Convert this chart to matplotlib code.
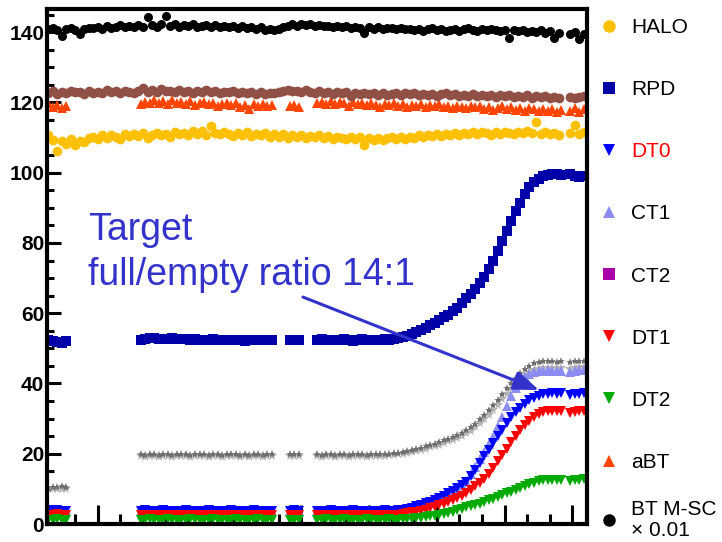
import numpy as np
import matplotlib
matplotlib.use("Agg")
import matplotlib.pyplot as plt
from matplotlib.ticker import MultipleLocator

plt.rcParams['font.family'] = ['Liberation Sans', 'DejaVu Sans']

# ---------------- data ----------------
# time samples (arbitrary units) of the segmented channels
SEG_LOW = [(0.8, 1.6, 5), (4.9, 10.7, 30), (11.5, 11.9, 3), (12.7, 23.5, 55), (23.9, 24.5, 4)]
# time samples of the continuous channels
SEG_TOP = [(0.8, 23.4, 114), (23.9, 24.5, 4)]

RPD = [52.3, 52.0, 51.8, 51.6, 52.0,
       52.4, 52.8, 53.0, 52.9, 52.7, 52.6, 52.8, 52.9, 52.7, 52.6, 52.6, 52.5, 52.6, 52.5, 52.4,
       52.5, 52.6, 52.5, 52.4, 52.3, 52.5, 52.4, 52.3, 52.2, 52.4, 52.3, 52.5, 52.4, 52.5, 52.4,
       52.3, 52.4, 52.3,
       52.5, 52.6, 52.4, 52.5, 52.3, 52.5, 52.6, 52.4, 52.2, 52.5, 52.6, 52.4, 52.5, 52.3, 52.5,
       52.6, 52.5, 52.7, 52.9, 53.2, 53.6, 54.1, 54.6, 55.2, 55.9, 56.6, 57.3, 58.0, 58.8, 59.6,
       60.5, 61.6, 63.0, 64.2, 65.6, 66.8, 68.5, 70.2, 72.5, 75.0, 77.8, 80.5, 83.3, 86.2, 89.0,
       91.3, 93.8, 95.8, 97.3, 98.3, 99.0, 99.4, 99.6, 99.5, 99.4,
       99.6, 99.2, 98.9, 99.1]

DT0 = [3.9, 3.8, 3.9, 3.7, 3.8,
       3.8, 3.9, 3.8, 3.7, 3.8, 3.9, 3.8, 3.8, 3.7, 3.8, 3.9, 3.8, 3.7, 3.8, 3.8,
       3.9, 3.8, 3.7, 3.8, 3.8, 3.9, 3.8, 3.7, 3.8, 3.8, 3.9, 3.8, 3.8, 3.7, 3.8,
       3.8, 3.9, 3.8,
       3.8, 3.7, 3.8, 3.9, 3.8, 3.7, 3.8, 3.8, 3.9, 3.8, 3.7, 3.8, 3.8, 3.7, 3.8, 3.9, 3.8, 3.8,
       3.9, 4.0, 4.2, 4.6, 5.0, 5.4, 5.9, 6.4, 6.9, 7.3, 8.0, 8.7, 9.5, 10.2, 11.0, 12.0, 13.6,
       15.5, 17.5, 19.3, 21.0, 23.0, 25.0, 26.8, 28.8, 30.5, 31.9, 33.1, 34.3, 35.2, 35.9, 36.5,
       36.9, 37.1, 37.2, 37.1, 37.2,
       36.8, 37.1, 37.0, 37.2]

CT1 = [3.8, 3.7, 3.8, 3.7, 3.8,
       3.7, 3.8, 3.7, 3.6, 3.7, 3.8, 3.7, 3.7, 3.6, 3.7, 3.8, 3.7, 3.6, 3.7, 3.7,
       3.8, 3.7, 3.6, 3.7, 3.7, 3.8, 3.7, 3.6, 3.7, 3.7, 3.8, 3.7, 3.7, 3.6, 3.7,
       3.7, 3.8, 3.7,
       3.7, 3.8, 3.7, 3.8, 3.7, 3.8, 3.7, 3.7, 3.8, 3.7, 3.8, 3.7, 3.7, 3.8, 3.7, 3.8, 3.7, 3.8,
       3.8, 3.9, 4.1, 4.5, 4.9, 5.3, 5.8, 6.3, 6.8, 7.2, 7.9, 8.6, 9.4, 10.2, 11.1, 12.3,
       14.2, 16.3, 18.5, 20.6, 22.8, 24.8, 27.8, 30.5, 33.5, 36.5, 38.8, 40.6, 41.9, 42.8, 43.3,
       43.5, 43.6, 43.7, 43.6, 43.5, 43.6,
       43.2, 43.6, 43.7, 43.8]

CT2 = []

DT1 = [2.7, 2.6, 2.8, 2.5, 2.6,
       2.6, 2.5, 2.7, 2.6, 2.5, 2.6, 2.7, 2.6, 2.5, 2.6, 2.6, 2.7, 2.5, 2.6, 2.6,
       2.5, 2.7, 2.6, 2.5, 2.6, 2.7, 2.6, 2.5, 2.6, 2.6, 2.7, 2.5, 2.6, 2.6, 2.5,
       2.6, 2.7, 2.6,
       2.6, 2.5, 2.7, 2.6, 2.5, 2.6, 2.7, 2.6, 2.5, 2.6, 2.6, 2.7, 2.5, 2.6, 2.6, 2.5, 2.7, 2.6,
       2.7, 2.8, 3.0, 3.3, 3.5, 3.8, 4.1, 4.5, 4.9, 5.3, 5.8, 6.2, 6.7, 7.3, 8.0, 8.8, 9.8,
       10.8, 11.7, 12.8, 14.2, 15.8, 17.8, 19.5, 21.3, 23.2, 25.0, 26.7, 28.2, 29.4, 30.4, 31.2,
       31.8, 32.1, 32.2, 32.1, 32.2,
       31.7, 32.0, 32.2, 32.1]

DT2 = [1.2, 1.1, 1.3, 1.0, 1.2,
       1.2, 1.1, 1.3, 1.2, 1.0, 1.2, 1.3, 1.1, 1.2, 1.2, 1.1, 1.3, 1.2, 1.1, 1.2,
       1.2, 1.3, 1.1, 1.2, 1.0, 1.2, 1.3, 1.1, 1.2, 1.2, 1.1, 1.3, 1.2, 1.1, 1.2,
       1.2, 1.1, 1.2,
       1.2, 1.1, 1.3, 1.2, 1.0, 1.2, 1.3, 1.1, 1.2, 1.2, 1.1, 1.3, 1.2, 1.1, 1.2, 1.2, 1.3, 1.1,
       1.2, 1.3, 1.4, 1.5, 1.6, 1.8, 2.0, 2.2, 2.4, 2.7, 2.9, 3.2, 3.5, 3.9, 4.3, 4.7, 5.0,
       5.4, 5.8, 6.2, 6.7, 7.2, 7.7, 8.2, 8.7, 9.2, 9.7, 10.3, 10.8, 11.3, 11.8, 12.1,
       12.4, 12.5, 12.6, 12.5, 12.6,
       12.3, 12.6, 12.5, 12.7]

GRAY_LIGHT = [10.0, 10.1, 9.9, 10.1, 10.0,
              19.3, 19.2, 19.4, 19.3, 19.2, 19.3, 19.4, 19.2, 19.3, 19.3, 19.4, 19.2, 19.3, 19.4, 19.3,
              19.2, 19.3, 19.4, 19.2, 19.3, 19.3, 19.4, 19.2, 19.3, 19.2, 19.3, 19.4, 19.2, 19.3, 19.3,
              19.3, 19.4, 19.3,
              19.3, 19.2, 19.4, 19.3, 19.2, 19.3, 19.4, 19.2, 19.3, 19.3, 19.4, 19.2, 19.3, 19.4, 19.3,
              19.4, 19.5, 19.6, 19.8, 20.0, 20.2, 20.5, 20.8, 21.1, 21.4, 21.8, 22.2, 22.6, 23.0, 23.5,
              24.0, 24.5, 25.1, 25.8, 26.6, 27.6, 28.7, 29.8, 31.1, 32.5, 34.0, 35.5, 37.0, 38.5, 39.9,
              41.2, 42.3, 43.2, 43.8, 44.2, 44.4, 44.5, 44.4, 44.3, 44.5,
              44.1, 44.4, 44.6, 44.5]

GRAY_DARK = [10.5, 10.6, 10.4, 10.7, 10.5,
             19.8, 19.7, 19.9, 19.8, 19.7, 19.8, 19.9, 19.7, 19.8, 19.8, 19.9, 19.7, 19.8, 19.9, 19.8,
             19.7, 19.8, 19.9, 19.7, 19.8, 19.8, 19.9, 19.7, 19.8, 19.7, 19.8, 19.9, 19.7, 19.8, 19.8,
             19.8, 19.9, 19.8,
             19.8, 19.7, 19.9, 19.8, 19.7, 19.8, 19.9, 19.7, 19.8, 19.8, 19.9, 19.7, 19.8, 19.9, 19.8,
             19.9, 20.0, 20.1, 20.3, 20.5, 20.8, 21.1, 21.4, 21.7, 22.1, 22.5, 22.9, 23.3, 23.8, 24.3,
             24.8, 25.4, 26.0, 26.8, 27.6, 28.6, 29.8, 31.0, 32.4, 33.8, 35.4, 37.0, 38.6, 40.2, 41.7,
             43.0, 44.2, 45.1, 45.7, 46.1, 46.3, 46.4, 46.3, 46.2, 46.4,
             46.0, 46.3, 46.5, 46.4]

ABT = [119.8, 118.6, 119.4, 118.3, 119.0,
       119.6, 120.2, 119.8, 120.6, 119.9, 120.3, 119.5, 120.8, 119.7, 120.1,
       119.6, 120.4, 119.3, 119.9, 120.2, 119.5, 119.8, 119.1, 119.6, 119.9,
       119.3, 119.7, 118.6, 119.4, 118.2, 119.5, 119.1, 119.6, 119.0, 119.3,
       119.0, 119.3, 118.8,
       119.8, 120.2, 119.6, 120.4, 119.5, 120.0, 119.7, 118.9, 120.1, 119.5,
       119.8, 119.2, 119.9, 119.4, 118.8, 119.6, 119.3, 119.9, 119.1, 119.5,
       118.7, 119.4, 119.0, 119.6, 118.6, 119.2, 118.9, 119.5, 118.7, 119.1,
       118.5, 119.0, 118.8, 118.3, 119.1, 118.6, 118.9, 118.2, 118.7, 117.8,
       118.5, 118.9, 118.1, 118.6, 117.9, 118.4, 117.6, 118.3, 118.0, 117.5,
       118.2, 117.7, 118.1, 117.4, 117.9,
       117.6, 118.3, 117.4, 118.0]

BT = [140.8, 141.2, 140.5, 139.0, 140.9, 141.1, 140.6, 139.5, 141.0, 141.3,
      141.1, 141.6, 141.0, 141.8, 141.3, 141.5, 142.0, 141.4, 141.9, 141.6,
      142.1, 141.6, 144.3, 142.0, 141.5, 142.2, 144.6, 141.8, 142.3, 141.6,
      142.0, 141.7, 142.2, 141.5, 141.9, 142.1, 141.6, 142.0, 141.4, 141.8,
      141.6, 141.9, 141.3, 141.7, 141.2, 141.6, 141.0, 141.4, 140.6, 140.9,
      140.6, 140.9, 141.4, 141.8, 142.2, 141.9, 142.4, 142.0, 142.3, 141.8,
      142.1, 141.7, 141.9, 141.4, 141.8, 141.5, 141.9, 141.3, 141.6, 141.2,
      139.7, 141.4, 141.0, 141.5, 140.9, 141.3, 141.1, 140.8, 141.2, 140.9,
      141.0, 140.6, 140.9, 140.4, 140.8, 141.1, 140.5, 140.9, 140.3, 140.7,
      140.9, 140.4, 140.8, 141.2, 140.6, 140.3, 140.8, 140.5, 141.0, 140.6,
      140.4, 140.7, 138.4, 140.5, 140.2, 140.6, 140.0, 140.4, 140.1, 140.5,
      139.8, 140.2, 138.4, 139.9,
      139.6, 140.0, 138.2, 139.5]

HALO = [110.6, 109.4, 106.3, 108.9, 108.2, 109.6, 107.8, 109.0, 108.6, 109.8,
        110.2, 109.5, 110.6, 109.9, 110.8, 110.3, 109.7, 110.9, 110.4, 111.1,
        110.5, 111.3, 110.0, 110.8, 111.4, 110.6, 111.0, 110.2, 111.6, 110.9,
        111.2, 110.7, 111.8, 111.0, 112.0, 110.8, 113.4, 111.3, 110.9, 111.6,
        111.0, 110.5, 111.3, 110.8, 111.5, 110.4, 111.1, 110.7, 111.2, 110.3,
        110.9, 110.2, 111.0, 109.8, 110.6, 110.1, 110.8, 109.9, 110.5, 110.2,
        110.7, 109.8, 110.4, 109.6, 110.2, 110.0, 109.5, 110.3, 109.7, 110.1,
        107.9, 110.0, 109.4, 109.9, 109.3, 109.8, 110.2, 109.6, 110.1, 109.7,
        110.3, 110.0, 110.6, 110.2, 110.8, 110.4, 110.9, 110.5, 111.1, 110.7,
        111.2, 110.8, 111.4, 110.9, 111.5, 111.0, 111.6, 111.2, 110.8, 111.5,
        111.1, 111.7, 111.3, 111.0, 111.6, 111.2, 111.8, 111.4, 114.3, 111.1,
        111.5, 111.0, 111.4, 110.8,
        111.2, 113.5, 110.9, 111.6]

BROWN = [122.6, 123.2, 122.4, 123.0, 122.7, 123.4, 122.9, 123.1, 122.5, 123.3,
         122.8, 123.0, 122.6, 123.5, 122.9, 123.2, 122.7, 123.4, 123.0, 122.8,
         123.3, 124.2, 122.9, 123.5, 123.1, 123.8, 123.2, 123.4, 122.9, 123.6,
         123.1, 123.4, 122.8, 123.3, 123.0, 123.5, 122.9, 123.2, 122.7, 123.1,
         122.9, 123.2, 122.6, 123.0, 122.8, 123.1, 122.5, 122.9, 122.4, 122.8,
         122.6, 123.0, 123.3, 123.6, 123.2, 123.4, 122.9, 123.5, 123.1, 122.8,
         123.2, 122.7, 123.0, 122.5, 122.9, 122.6, 123.1, 121.8, 122.7, 122.4,
         122.8, 122.3, 122.7, 122.2, 122.6, 122.1, 122.5, 122.8, 122.2, 122.6,
         122.3, 122.7, 122.1, 122.5, 122.0, 122.4, 121.9, 122.3, 122.6, 122.0,
         122.4, 121.8, 122.2, 121.9, 122.3, 121.7, 122.1, 121.8, 122.2, 121.6,
         122.0, 121.7, 122.1, 121.5, 121.9, 121.6, 122.0, 121.4, 121.8, 121.5,
         121.7, 121.3, 121.6, 121.2,
         121.6, 121.2, 121.5, 121.8]

LEGEND_LABELS = ["HALO", "RPD", "DT0", "CT1", "CT2", "DT1", "DT2", "aBT"]
BT_LABEL = "BT M-SC\n\u00d7 0.01"
Y_TICKS = [0, 20, 40, 60, 80, 100, 120, 140]

# ---------------- build x grids ----------------
x_low = np.concatenate([np.linspace(a, b, n) for a, b, n in SEG_LOW])
x_top = np.concatenate([np.linspace(a, b, n) for a, b, n in SEG_TOP])

fig = plt.figure(figsize=(7.22, 5.42), dpi=100)
ax = fig.add_axes([47 / 722, 1 - 524 / 542, 540 / 722, 515 / 542])

def pl(x, y, marker, color, ms, label=None, z=2):
    return ax.plot(x[:len(y)], y, linestyle='none', marker=marker, color=color,
                   markersize=ms, markeredgewidth=0, label=label, zorder=z)[0]

pl(x_low, GRAY_LIGHT, '*', '#b4b4b4', 8)
pl(x_low, GRAY_DARK, '*', '#707070', 6)
h_ct1 = pl(x_low, CT1, '^', '#8c8cf0', 7, 'CT1')
h_ct2 = pl(x_low, CT2, 's', '#aa00aa', 5, 'CT2')
h_dt0 = pl(x_low, DT0, 'v', '#0000ff', 7, 'DT0')
h_dt1 = pl(x_low, DT1, 'v', '#ff0000', 7, 'DT1')
h_dt2 = pl(x_low, DT2, 'v', '#00aa00', 7, 'DT2')
h_rpd = pl(x_low, RPD, 's', '#0000a8', 6.5, 'RPD')
h_abt = pl(x_low, ABT, '^', '#ff4500', 7, 'aBT')
pl(x_top, BROWN, 'o', '#905046', 7)
h_halo = pl(x_top, HALO, 'o', '#ffc000', 7, 'HALO')
h_bt = pl(x_top, BT, 'o', '#000000', 6.5, 'BT')

ax.set_xlim(17 / 22.6, 557 / 22.6)
ax.set_ylim(0, 146.6)

for s in ax.spines.values():
    s.set_linewidth(3)
ax.set_yticks(Y_TICKS)
ax.yaxis.set_minor_locator(MultipleLocator(5))
ax.xaxis.set_major_locator(MultipleLocator(3))
ax.xaxis.set_minor_locator(MultipleLocator(1))
ax.tick_params(axis='both', which='major', direction='in', width=2.2)
ax.tick_params(axis='both', which='minor', direction='in', width=2.2)
ax.tick_params(axis='y', which='major', length=10, pad=2, labelsize=15)
ax.tick_params(axis='y', which='minor', length=5)
ax.tick_params(axis='x', which='major', length=14, labelbottom=False)
ax.tick_params(axis='x', which='minor', length=7)
for lab in ax.get_yticklabels():
    lab.set_fontweight('bold')

# annotation
blue = '#3333cc'
fig.text(88 / 722, 1 - 240 / 542, "Target", color=blue, fontsize=27, va='baseline', ha='left')
fig.text(88 / 722, 1 - 285 / 542, "full/empty ratio 14:1", color=blue, fontsize=27,
         va='baseline', ha='left')
ax.annotate('', xy=((539 - 30) / 22.6, (524 - 390) / 3.514),
            xytext=((303 - 30) / 22.6, (524 - 297) / 3.514),
            arrowprops=dict(arrowstyle='-|>,head_length=0.45,head_width=0.17', color=blue,
                            lw=2.2, mutation_scale=34, shrinkA=0, shrinkB=0), zorder=10)

handles = [h_halo, h_rpd, h_dt0, h_ct1, h_ct2, h_dt1, h_dt2, h_abt]
leg = fig.legend(handles, LEGEND_LABELS, loc='upper left', bbox_to_anchor=(599 / 722, 1 - 18 / 542),
                 frameon=False, fontsize=15, handlelength=1.0, handletextpad=0.55,
                 labelspacing=2.07, borderpad=0, borderaxespad=0, numpoints=1)
for h in leg.legend_handles:
    h.set_markersize(9)
leg.get_texts()[2].set_color('red')

leg2 = fig.legend([h_bt], [BT_LABEL], loc='upper left', bbox_to_anchor=(599 / 722, 1 - 500 / 542),
                  frameon=False, fontsize=15, handlelength=1.0, handletextpad=0.55,
                  borderpad=0, borderaxespad=0, numpoints=1)
for h in leg2.legend_handles:
    h.set_markersize(9)
leg2.get_texts()[0].set_linespacing(1.1)

fig.savefig('out.png', dpi=100)
